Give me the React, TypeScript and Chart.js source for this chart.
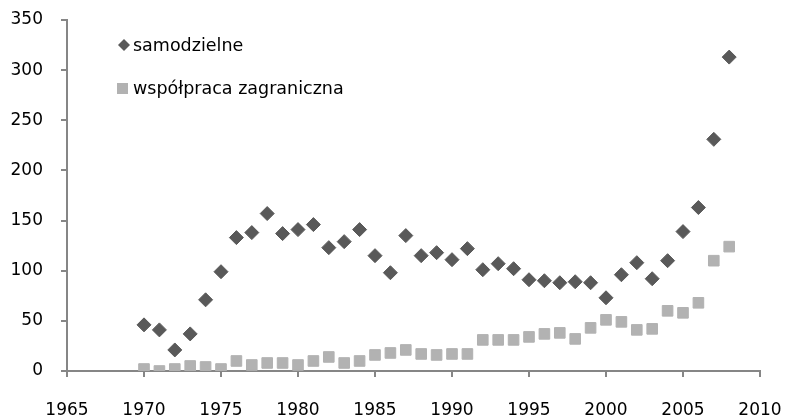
import React, { useEffect, useRef } from "react";
import { Chart, registerables } from "chart.js";

Chart.register(...registerables);

const years: number[] = [
  1970, 1971, 1972, 1973, 1974, 1975, 1976, 1977, 1978, 1979,
  1980, 1981, 1982, 1983, 1984, 1985, 1986, 1987, 1988, 1989,
  1990, 1991, 1992, 1993, 1994, 1995, 1996, 1997, 1998, 1999,
  2000, 2001, 2002, 2003, 2004, 2005, 2006, 2007, 2008,
];

const samodzielne: number[] = [
  46, 41, 21, 37, 71, 99, 133, 138, 157, 137,
  141, 146, 123, 129, 141, 115, 98, 135, 115, 118,
  111, 122, 101, 107, 102, 91, 90, 88, 89, 88,
  73, 96, 108, 92, 110, 139, 163, 231, 313,
];

const wspolpraca: number[] = [
  2, 0, 2, 5, 4, 2, 10, 6, 8, 8,
  6, 10, 14, 8, 10, 16, 18, 21, 17, 16,
  17, 17, 31, 31, 31, 34, 37, 38, 32, 43,
  51, 49, 41, 42, 60, 58, 68, 110, 124,
];

const seriesLabels: string[] = ["samodzielne", "współpraca zagraniczna"];

const FONT = "'DejaVu Sans', sans-serif";
const DARK = "#595959";
const LIGHT = "#b2b2b2";
const AXIS = "#868686";

const legendPlugin = {
  id: "insideLegend",
  afterDraw(chart: any) {
    const ctx = chart.ctx;
    ctx.save();
    ctx.font = `17.5px ${FONT}`;
    ctx.textBaseline = "middle";
    ctx.textAlign = "left";
    const d = chart.data.datasets[0];
    const s = chart.data.datasets[1];
    ctx.fillStyle = d.backgroundColor;
    ctx.beginPath();
    const cx = 124, cy = 45, r = 6;
    ctx.moveTo(cx, cy - r);
    ctx.lineTo(cx + r, cy);
    ctx.lineTo(cx, cy + r);
    ctx.lineTo(cx - r, cy);
    ctx.closePath();
    ctx.fill();
    ctx.fillStyle = "#000";
    ctx.fillText(d.label, 133, 46);
    ctx.fillStyle = s.backgroundColor;
    ctx.fillRect(117, 83, 11, 11);
    ctx.fillStyle = "#000";
    ctx.fillText(s.label, 133, 89);
    ctx.restore();
  },
};

export default function App() {
  const ref = useRef<HTMLCanvasElement | null>(null);

  useEffect(() => {
    if (!ref.current) return;
    const chart = new Chart(ref.current, {
      type: "scatter",
      data: {
        datasets: [
          {
            label: seriesLabels[0],
            data: years.map((y, i) => ({ x: y, y: samodzielne[i] })),
            pointStyle: "rectRot",
            pointRadius: 7,
            backgroundColor: DARK,
            borderColor: DARK,
            borderWidth: 1,
          },
          {
            label: seriesLabels[1],
            data: years.map((y, i) => ({ x: y, y: wspolpraca[i] })),
            pointStyle: "rect",
            pointRadius: 7.5,
            backgroundColor: LIGHT,
            borderColor: LIGHT,
            borderWidth: 1,
          },
        ],
      },
      options: {
        animation: false,
        responsive: false,
        layout: { padding: { top: 20, right: 25, left: 0, bottom: 0 } },
        plugins: {
          legend: { display: false },
          tooltip: { enabled: false },
        },
        scales: {
          x: {
            type: "linear",
            min: 1965,
            max: 2010,
            ticks: {
              stepSize: 5,
              color: "#000",
              font: { family: FONT, size: 17 },
              padding: 23,
              maxRotation: 0,
              callback: (v: any) => String(v),
            },
            grid: {
              display: true,
              drawOnChartArea: false,
              drawTicks: true,
              tickLength: 6,
              color: AXIS,
              lineWidth: 2,
            },
            border: { display: true, color: AXIS, width: 2 },
            afterFit: (scale: any) => {
              scale.height = 46;
              scale.paddingLeft = 0;
              scale.paddingRight = 0;
            },
          },
          y: {
            type: "linear",
            min: 0,
            max: 350,
            ticks: {
              stepSize: 50,
              color: "#000",
              font: { family: FONT, size: 17 },
              padding: 18,
            },
            grid: {
              display: true,
              drawOnChartArea: false,
              drawTicks: true,
              tickLength: 6,
              color: AXIS,
              lineWidth: 2,
            },
            border: { display: true, color: AXIS, width: 2 },
            afterFit: (scale: any) => {
              scale.width = 67;
              scale.paddingTop = 0;
              scale.paddingBottom = 0;
            },
          },
        },
      },
      plugins: [legendPlugin],
    });
    return () => chart.destroy();
  }, []);

  return (
    <div style={{ position: "absolute", left: 0, top: 0, width: 785, height: 417, background: "#fff" }}>
      <canvas ref={ref} width={785} height={417} />
    </div>
  );
}
